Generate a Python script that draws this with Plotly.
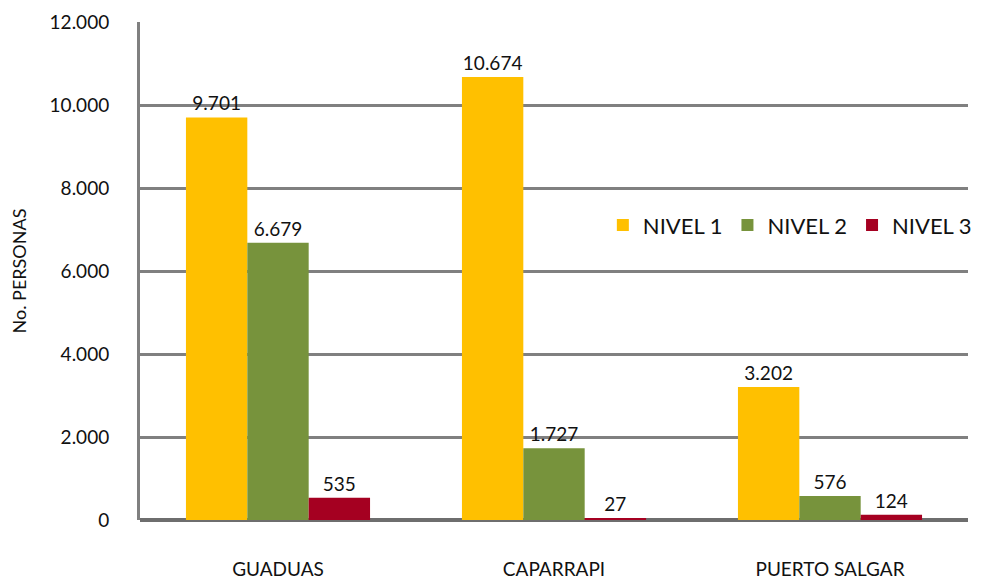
import plotly.graph_objects as go

# Data
municipios = ['GUADUAS', 'CAPARRAPI', 'PUERTO SALGAR']
nivel_1 = [9701, 10674, 3202]
nivel_2 = [6679, 1727, 576]
nivel_3 = [535, 27, 124]
y_ticks = [0, 2000, 4000, 6000, 8000, 10000, 12000]

series = [
    ('NIVEL 1', nivel_1, '#FFC000'),
    ('NIVEL 2', nivel_2, '#77933C'),
    ('NIVEL 3', nivel_3, '#A50021'),
]

font_family = 'Lato, Open Sans, sans-serif'

fig = go.Figure()
for name, values, color in series:
    fig.add_trace(go.Bar(
        x=municipios,
        y=values,
        name=name,
        marker=dict(color=color, line=dict(width=0)),
        text=values,
        texttemplate='%{y:,}',
        textposition='outside',
        textfont=dict(size=19, color='#111111', family=font_family),
        cliponaxis=False,
    ))

# page body has an 8px margin, so the figure is sized and offset to match
fig.update_layout(
    width=984,
    height=571,
    margin=dict(l=132, r=24, t=14, b=59),
    paper_bgcolor='white',
    plot_bgcolor='white',
    separators=',.',
    barmode='group',
    bargap=0.333,
    bargroupgap=0,
    font=dict(family=font_family, color='#111111'),
    showlegend=True,
    legend=dict(
        orientation='h',
        x=0.559, y=0.592,
        xanchor='left', yanchor='middle',
        font=dict(size=22, family=font_family),
        itemwidth=30,
        bgcolor='rgba(0,0,0,0)',
    ),
    yaxis=dict(
        automargin=False,
        range=[0, 12000],
        tickvals=y_ticks,
        tickformat=',',
        tickfont=dict(size=19),
        ticklabelstandoff=24,
        showgrid=True,
        gridcolor='#808080',
        gridwidth=3,
        showline=True,
        linecolor='#808080',
        linewidth=3,
        zeroline=True,
        zerolinecolor='#6e6e6e',
        zerolinewidth=4,
        title=dict(text='No. PERSONAS', font=dict(size=18), standoff=40),
    ),
    xaxis=dict(
        automargin=False,
        tickfont=dict(size=19),
        ticklabelstandoff=36,
        showline=False,
        showgrid=False,
    ),
)

fig.write_html('out.html')
